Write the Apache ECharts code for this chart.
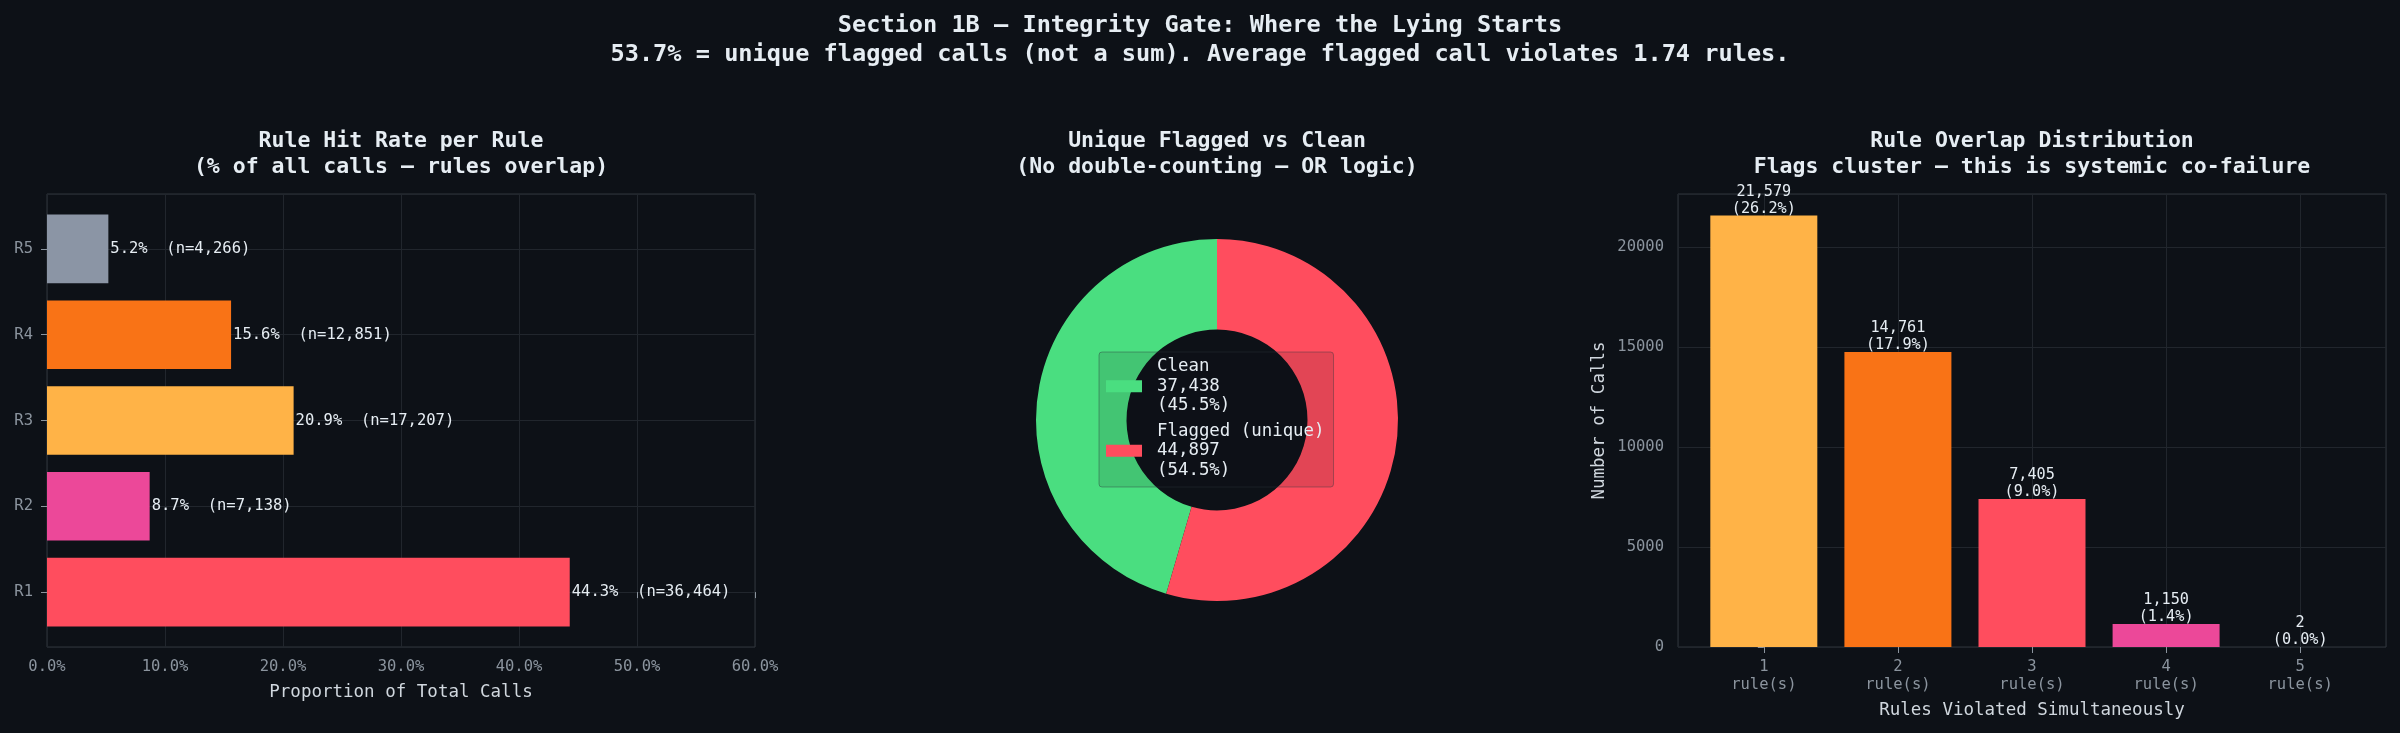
<!DOCTYPE html>
<html>
<head>
<meta charset="utf-8">
<script src="https://cdn.jsdelivr.net/npm/echarts@6/dist/echarts.min.js"></script>
<style>
  html, body { margin: 0; padding: 0; background: #0d1117; }
  #chart { width: 2400px; height: 733px; }
</style>
</head>
<body>
<div id="chart"></div>
<script>
// ---------- data ----------
const ruleNames = ['R1', 'R2', 'R3', 'R4', 'R5'];
const rulePct = [44.3, 8.7, 20.9, 15.6, 5.2];
const ruleCounts = [36464, 7138, 17207, 12851, 4266];
const ruleColors = ['#ff4d5e', '#ec4899', '#ffb347', '#f97316', '#8b95a5'];
const pctTicks = [0, 10, 20, 30, 40, 50, 60];

const pieNames = ['Clean', 'Flagged (unique)'];
const pieValues = [37438, 44897];
const piePct = [45.5, 54.5];
const pieColors = ['#4ade80', '#ff4d5e'];

const overlapTickLabels = ['1\nrule(s)', '2\nrule(s)', '3\nrule(s)', '4\nrule(s)', '5\nrule(s)'];
const overlapCounts = [21579, 14761, 7405, 1150, 2];
const overlapPct = [26.2, 17.9, 9.0, 1.4, 0.0];
const overlapColors = ['#ffb347', '#f97316', '#ff4d5e', '#ec4899', '#ff4d5e'];

// ---------- style ----------
const FONT = 'DejaVu Sans Mono';
const BG = '#0d1117';
const TXT = '#e6edf3';
const TICK = '#8b949e';
const GRIDC = '#21262d';
const FRAME = '#30363d';

const fmt = n => n.toLocaleString('en-US');
const isInt = v => Math.abs(v - Math.round(v)) < 1e-9;

const chart = echarts.init(document.getElementById('chart'), null, { renderer: 'canvas' });

const panelTitle = (text, x) => ({
  text, left: x, top: 128, textAlign: 'center', padding: 0,
  textStyle: { fontFamily: FONT, fontSize: 21.5, fontWeight: 'bold', color: TXT, lineHeight: 26 }
});

const catAxisLabel = { fontFamily: FONT, fontSize: 15.5, color: TICK };

const option = {
  backgroundColor: BG,
  animation: false,
  title: [
    {
      text: 'Section 1B \u2014 Integrity Gate: Where the Lying Starts\n53.7% = unique flagged calls (not a sum). Average flagged call violates 1.74 rules.',
      left: 1200, top: 11, textAlign: 'center', padding: 0,
      textStyle: { fontFamily: FONT, fontSize: 23.6, fontWeight: 'bold', color: TXT, lineHeight: 29.5 }
    },
    panelTitle('Rule Hit Rate per Rule\n(% of all calls \u2014 rules overlap)', 401),
    panelTitle('Unique Flagged vs Clean\n(No double-counting \u2014 OR logic)', 1217),
    panelTitle('Rule Overlap Distribution\nFlags cluster \u2014 this is systemic co-failure', 2032)
  ],
  grid: [
    // 0: left frame / gridlines
    { left: 47, top: 194, width: 708, height: 453, show: true, borderColor: FRAME, borderWidth: 1, backgroundColor: 'transparent' },
    // 1: left bars
    { left: 47, top: 206, width: 708, height: 429, show: false },
    // 2: right chart
    { left: 1678, top: 194, width: 708, height: 453, show: true, borderColor: FRAME, borderWidth: 1, backgroundColor: 'transparent' }
  ],
  xAxis: [
    {
      gridIndex: 0, type: 'value', min: 0, max: 60, interval: 10,
      axisLine: { show: false },
      axisTick: { show: true, length: 6, lineStyle: { color: TICK } },
      axisLabel: { ...catAxisLabel, margin: 12, formatter: v => v.toFixed(1) + '%' },
      splitLine: { show: true, lineStyle: { color: GRIDC, width: 1 } },
      name: 'Proportion of Total Calls', nameLocation: 'middle', nameGap: 36,
      nameTextStyle: { fontFamily: FONT, fontSize: 17.5, color: '#d0d7de' }
    },
    { gridIndex: 1, type: 'value', min: 0, max: 60, show: false },
    {
      gridIndex: 2, type: 'value', min: -0.64, max: 4.64,
      axisLine: { show: false },
      axisTick: { show: true, length: 6, lineStyle: { color: TICK } },
      axisLabel: {
        ...catAxisLabel, margin: 11, lineHeight: 18, showMinLabel: false, showMaxLabel: false,
        formatter: v => (isInt(v) && v >= 0 && v < overlapTickLabels.length) ? overlapTickLabels[Math.round(v)] : ''
      },
      splitLine: { show: true, lineStyle: { color: GRIDC, width: 1 } },
      name: 'Rules Violated Simultaneously', nameLocation: 'middle', nameGap: 54,
      nameTextStyle: { fontFamily: FONT, fontSize: 17.5, color: '#d0d7de' }
    }
  ],
  yAxis: [
    {
      gridIndex: 0, type: 'value', min: -0.64, max: 4.64,
      axisLine: { show: false },
      axisTick: { show: true, length: 6, lineStyle: { color: TICK } },
      axisLabel: {
        ...catAxisLabel, margin: 14, showMinLabel: false, showMaxLabel: false,
        formatter: v => (isInt(v) && v >= 0 && v < ruleNames.length) ? ruleNames[Math.round(v)] : ''
      },
      splitLine: { show: true, lineStyle: { color: GRIDC, width: 1 } }
    },
    { gridIndex: 1, type: 'category', data: ruleNames, show: false },
    {
      gridIndex: 2, type: 'value', min: 0, max: 22658,
      axisLine: { show: false },
      axisTick: { show: true, length: 6, lineStyle: { color: TICK } },
      axisLabel: {
        ...catAxisLabel, margin: 14, showMaxLabel: false,
        formatter: v => (v % 5000 === 0) ? String(v) : ''
      },
      splitLine: { show: true, lineStyle: { color: GRIDC, width: 1 } },
      splitNumber: 5,
      name: 'Number of Calls', nameLocation: 'middle', nameGap: 70, nameRotate: 90,
      nameTextStyle: { fontFamily: FONT, fontSize: 17.5, color: '#d0d7de' }
    }
  ],
  legend: {
    show: true,
    data: pieNames,
    orient: 'vertical',
    left: 1099, top: 352,
    icon: 'rect',
    itemWidth: 36, itemHeight: 12, itemGap: 6,
    padding: [5, 9, 7, 7],
    backgroundColor: 'rgba(13,17,23,0.12)',
    borderColor: 'rgba(48,54,61,0.4)', borderWidth: 1, borderRadius: 3,
    selectedMode: false,
    textStyle: { fontFamily: FONT, fontSize: 17.4, color: TXT, lineHeight: 19.5, padding: [0, 0, 0, 10] },
    formatter: name => {
      const i = pieNames.indexOf(name);
      return `${name}\n${fmt(pieValues[i])}\n(${piePct[i].toFixed(1)}%)`;
    }
  },
  series: [
    {
      type: 'bar', xAxisIndex: 1, yAxisIndex: 1, barWidth: '80%',
      data: rulePct.map((v, i) => ({ value: v, itemStyle: { color: ruleColors[i] } })),
      label: {
        show: true, position: 'right', distance: 2,
        fontFamily: FONT, fontSize: 15.5, color: TXT,
        formatter: p => `${rulePct[p.dataIndex].toFixed(1)}%  (n=${fmt(ruleCounts[p.dataIndex])})`
      }
    },
    {
      type: 'pie', center: [1217, 420], radius: [90.5, 181],
      startAngle: 90, clockwise: false,
      label: { show: false }, labelLine: { show: false },
      emphasis: { disabled: true },
      data: pieNames.map((n, i) => ({ name: n, value: pieValues[i], itemStyle: { color: pieColors[i] } }))
    },
    {
      type: 'bar', xAxisIndex: 2, yAxisIndex: 2, barWidth: 107,
      data: overlapCounts.map((v, i) => ({ value: [i, v], itemStyle: { color: overlapColors[i] } })),
      label: {
        show: true, position: 'top', distance: -2,
        fontFamily: FONT, fontSize: 15.2, color: TXT, lineHeight: 17,
        formatter: p => `${fmt(overlapCounts[p.dataIndex])}\n(${overlapPct[p.dataIndex].toFixed(1)}%)`
      }
    }
  ]
};

chart.setOption(option);
</script>
</body>
</html>
